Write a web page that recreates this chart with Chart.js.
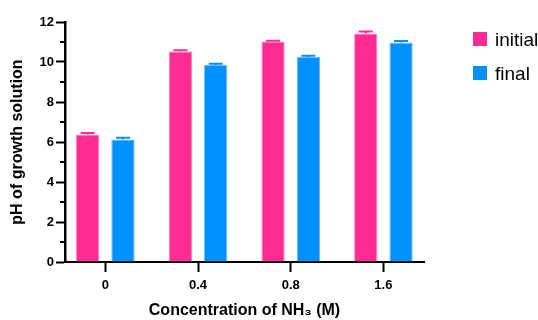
<!DOCTYPE html>
<html><head><meta charset="utf-8">
<script src="https://cdn.jsdelivr.net/npm/chart.js@4.4.1/dist/chart.umd.min.js"></script>
<style>html,body{margin:0;padding:0;background:#fff;}#wrap{width:538px;height:320px;position:relative;}</style>
</head><body><div id="wrap"><canvas id="c" width="538" height="320"></canvas></div>
<script>
const categories = ['0', '0.4', '0.8', '1.6'];
const seriesNames = ['initial', 'final'];
const initialPH = [6.37, 10.52, 11.02, 11.43];
const initialErr = [0.08, 0.07, 0.04, 0.10];
const finalPH = [6.13, 9.85, 10.25, 10.98];
const finalErr = [0.08, 0.065, 0.065, 0.065];
const yMajorTicks = [0, 2, 4, 6, 8, 10, 12];
const yMinorTicks = [1, 3, 5, 7, 9, 11];

const PINK = '#ff2d92', PINK_EDGE = '#ff85bd';
const BLUE = '#0091ff', BLUE_EDGE = '#6cbcff';
const FONT = '"Liberation Sans", Arial, Helvetica, sans-serif';
Chart.defaults.font.family = FONT;
Chart.defaults.color = '#000';

const toPoints = vals => vals.map((v, i) => ({x: i, y: v}));

const errorBars = {
  id: 'errorBars',
  afterDatasetsDraw(chart) {
    const ctx = chart.ctx, ys = chart.scales.y;
    chart.data.datasets.forEach((ds, di) => {
      const meta = chart.getDatasetMeta(di);
      meta.data.forEach((bar, j) => {
        const top = ys.getPixelForValue(ds.data[j].y + ds.errors[j]);
        const half = bar.width * 0.3;
        ctx.save();
        ctx.strokeStyle = ds.backgroundColor;
        ctx.lineWidth = 2;
        ctx.beginPath();
        ctx.moveTo(bar.x, bar.y);
        ctx.lineTo(bar.x, top);
        ctx.moveTo(bar.x - half, top);
        ctx.lineTo(bar.x + half, top);
        ctx.stroke();
        ctx.restore();
      });
    });
  }
};

const minorTicks = {
  id: 'minorTicks',
  afterDraw(chart) {
    const ctx = chart.ctx, ys = chart.scales.y, left = chart.chartArea.left;
    ctx.save();
    ctx.strokeStyle = '#000';
    ctx.lineWidth = 2;
    ctx.beginPath();
    yMinorTicks.forEach(v => {
      const y = Math.round(ys.getPixelForValue(v));
      ctx.moveTo(left - 5, y);
      ctx.lineTo(left, y);
    });
    ctx.stroke();
    ctx.restore();
  }
};

const customLegend = {
  id: 'customLegend',
  afterDraw(chart) {
    const ctx = chart.ctx;
    ctx.save();
    ctx.font = '19px ' + FONT;
    ctx.textBaseline = 'alphabetic';
    ctx.textAlign = 'left';
    chart.data.datasets.forEach((ds, i) => {
      const top = 32 + i * 34;
      ctx.fillStyle = ds.backgroundColor;
      ctx.fillRect(473, top, 14, 14);
      ctx.fillStyle = '#000';
      ctx.fillText(ds.label, 495, top + 14);
    });
    ctx.restore();
  }
};

new Chart(document.getElementById('c'), {
  type: 'bar',
  data: {
    datasets: [
      {label: seriesNames[0], data: toPoints(initialPH), errors: initialErr,
       backgroundColor: PINK, borderColor: PINK_EDGE, borderWidth: 1},
      {label: seriesNames[1], data: toPoints(finalPH), errors: finalErr,
       backgroundColor: BLUE, borderColor: BLUE_EDGE, borderWidth: 1}
    ]
  },
  options: {
    responsive: false,
    animation: false,
    layout: {padding: {top: 22, right: 114, bottom: 0, left: 0}},
    datasets: {bar: {categoryPercentage: 0.762, barPercentage: 0.66}},
    plugins: {legend: {display: false}, tooltip: {enabled: false}},
    scales: {
      x: {
        type: 'linear',
        offset: false,
        bounds: 'data',
        min: -0.435, max: 3.438,
        afterFit: s => { s.height = 58; },
        afterBuildTicks: s => { s.ticks = categories.map((c, i) => ({value: i})); },
        ticks: {
          callback: v => categories[v],
          font: {size: 13, weight: 'bold'},
          padding: 6,
          maxRotation: 0
        },
        grid: {offset: false, drawOnChartArea: false, drawTicks: true, tickLength: 10, tickColor: '#000', tickWidth: 2},
        border: {display: true, color: '#000', width: 2},
        title: {display: true, text: 'Concentration of NH₃ (M)', font: {size: 16, weight: 'bold'}, padding: {top: 0, bottom: 0}}
      },
      y: {
        min: 0, max: 12,
        afterFit: s => { s.width = 65; },
        afterBuildTicks: s => { s.ticks = yMajorTicks.map(v => ({value: v})); },
        ticks: {font: {size: 13, weight: 'bold'}, padding: 2},
        grid: {drawOnChartArea: false, drawTicks: true, tickLength: 9, tickColor: '#000', tickWidth: 2},
        border: {display: true, color: '#000', width: 2.5},
        title: {display: true, text: 'pH of growth solution', font: {size: 16, weight: 'bold'}, padding: {top: 8, bottom: 0}}
      }
    }
  },
  plugins: [errorBars, minorTicks, customLegend]
});
</script>
</body></html>
